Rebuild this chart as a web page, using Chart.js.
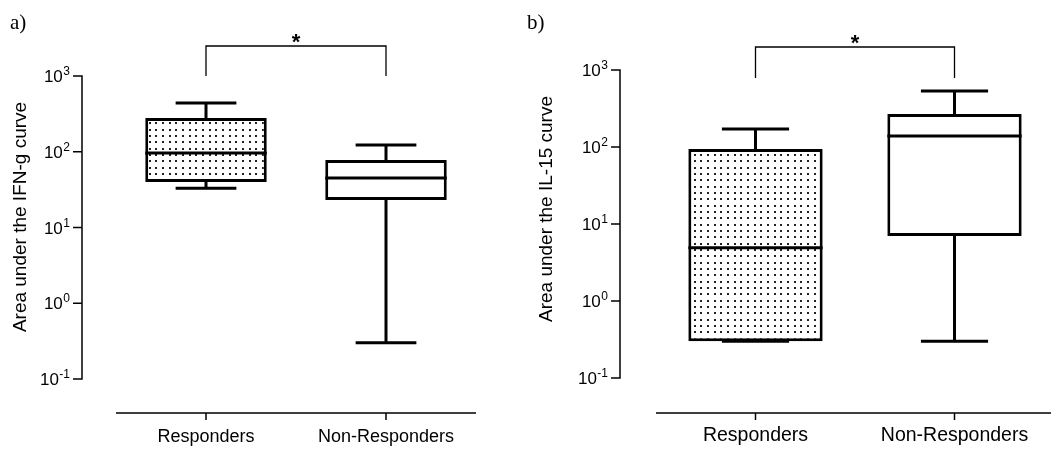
<!DOCTYPE html>
<html>
<head>
<meta charset="utf-8">
<script src="https://cdn.jsdelivr.net/npm/chart.js@4.4.0/dist/chart.umd.min.js"></script>
<style>
  html, body { margin: 0; padding: 0; background: #fff; overflow: hidden; }
  #wrap { position: relative; width: 1051px; height: 454px; overflow: hidden; }
  canvas { position: absolute; top: 0; }
  #chartA { left: 0; }
  #chartB { left: 525px; }
</style>
</head>
<body>
<div id="wrap">
  <canvas id="chartA" width="525" height="454"></canvas>
  <canvas id="chartB" width="540" height="454"></canvas>
</div>
<script>
// groups on the x axis
const categories = ['Responders', 'Non-Responders'];

// panel a) area under the IFN-g curve (box: Q1..Q3, whiskers min..max)
const ifnMin = [33, 0.3];
const ifnQ1 = [40, 23];
const ifnMedian = [96, 45];
const ifnQ3 = [279, 78];
const ifnMax = [440, 123];

// panel b) area under the IL-15 curve
const il15Min = [0.3, 0.3];
const il15Q1 = [0.3, 7.0];
const il15Median = [4.9, 139];
const il15Q3 = [94, 268];
const il15Max = [171, 533];

// log axis ticks, shown as 10^n
const yTickValues = [0.1, 1, 10, 100, 1000];
const yTickExponents = ['-1', '0', '1', '2', '3'];

const SANS = "'Liberation Sans', Arial, sans-serif";
const SERIF = "'Liberation Serif', 'Times New Roman', serif";

function dotPattern() {
  const c = document.createElement('canvas');
  c.width = 20;
  c.height = 19;
  const g = c.getContext('2d');
  g.fillStyle = '#fff';
  g.fillRect(0, 0, 20, 19);
  g.fillStyle = '#222';
  for (let i = 0; i < 3; i++) {
    for (let j = 0; j < 3; j++) {
      g.fillRect(Math.round(2 + i * 6.67), Math.round(2 + j * 6.33), 2, 2);
    }
  }
  return g.createPattern(c, 'repeat');
}

// whiskers, caps and median line, drawn on top of the floating bars
const boxWhiskerPlugin = {
  id: 'boxWhiskers',
  afterDatasetsDraw(chart, args, opts) {
    const ctx = chart.ctx;
    const y = chart.scales.y;
    const s = opts.stats;
    ctx.save();
    ctx.strokeStyle = '#000';
    ctx.lineWidth = 3;
    ctx.beginPath();
    chart.getDatasetMeta(0).data.forEach((bar, i) => {
      const half = bar.width / 2;
      const yMin = y.getPixelForValue(s.min[i]);
      const yQ1 = y.getPixelForValue(s.q1[i]);
      const yMed = y.getPixelForValue(s.median[i]);
      const yQ3 = y.getPixelForValue(s.q3[i]);
      const yMax = y.getPixelForValue(s.max[i]);
      ctx.moveTo(bar.x, yQ3); ctx.lineTo(bar.x, yMax);
      ctx.moveTo(bar.x - half / 2, yMax); ctx.lineTo(bar.x + half / 2, yMax);
      ctx.moveTo(bar.x, yQ1); ctx.lineTo(bar.x, yMin);
      ctx.moveTo(bar.x - half / 2, yMin); ctx.lineTo(bar.x + half / 2, yMin);
      ctx.moveTo(bar.x - half, yMed); ctx.lineTo(bar.x + half, yMed);
    });
    ctx.stroke();
    ctx.restore();
  }
};

// Prism style detached axes, title, panel letter and significance bracket
const prismAxesPlugin = {
  id: 'prismAxes',
  afterDraw(chart, args, o) {
    const ctx = chart.ctx;
    const a = chart.chartArea;
    const x = chart.scales.x;
    const y = chart.scales.y;
    ctx.save();
    ctx.strokeStyle = '#000';
    ctx.fillStyle = '#000';
    ctx.lineWidth = 1.5;

    const ax = a.left - o.yGap;
    const yTop = y.getPixelForValue(yTickValues[yTickValues.length - 1]);
    const yBot = y.getPixelForValue(yTickValues[0]);
    const xAxisY = a.bottom + o.xGap;

    ctx.beginPath();
    ctx.moveTo(ax, yTop - 0.75);
    ctx.lineTo(ax, yBot + 0.75);
    yTickValues.forEach(v => {
      const py = y.getPixelForValue(v);
      ctx.moveTo(ax - 9, py);
      ctx.lineTo(ax, py);
    });
    ctx.moveTo(a.left, xAxisY);
    ctx.lineTo(a.right, xAxisY);
    categories.forEach((c, i) => {
      const px = x.getPixelForValue(i);
      ctx.moveTo(px, xAxisY);
      ctx.lineTo(px, xAxisY + 7);
    });
    ctx.stroke();

    // tick labels 10^n
    yTickValues.forEach((v, i) => {
      const py = y.getPixelForValue(v);
      ctx.font = '12px ' + SANS;
      const sup = yTickExponents[i];
      const supW = ctx.measureText(sup).width;
      const right = ax - 12;
      ctx.textAlign = 'left';
      ctx.textBaseline = 'alphabetic';
      ctx.fillText(sup, right - supW, py - 1);
      ctx.font = '17px ' + SANS;
      ctx.textAlign = 'right';
      ctx.fillText('10', right - supW - 0.5, py + 6);
    });

    // category labels
    ctx.font = o.catFont + 'px ' + SANS;
    ctx.textAlign = 'center';
    ctx.textBaseline = 'alphabetic';
    categories.forEach((c, i) => {
      ctx.fillText(c, x.getPixelForValue(i), xAxisY + o.catDrop);
    });

    // rotated y title
    ctx.save();
    ctx.translate(o.titleX, o.titleY);
    ctx.rotate(-Math.PI / 2);
    ctx.font = '19px ' + SANS;
    ctx.textAlign = 'center';
    ctx.fillText(o.title, 0, 0);
    ctx.restore();

    // panel letter
    ctx.font = '21px ' + SERIF;
    ctx.textAlign = 'left';
    ctx.fillText(o.letter, o.letterX, 29);

    // significance bracket between the two groups
    const x0 = x.getPixelForValue(0);
    const x1 = x.getPixelForValue(1);
    const lineY = yTop - o.bracketRise;
    const footY = yTop + o.bracketDrop;
    ctx.lineWidth = 1.3;
    ctx.beginPath();
    ctx.moveTo(x0, footY);
    ctx.lineTo(x0, lineY);
    ctx.lineTo(x1, lineY);
    ctx.lineTo(x1, footY);
    ctx.stroke();
    ctx.font = 'bold 22px ' + SANS;
    ctx.textAlign = 'center';
    ctx.fillText('*', (x0 + x1) / 2, lineY + 3);
    ctx.restore();
  }
};

function makePanel(canvasId, stats, opts) {
  const ctx = document.getElementById(canvasId).getContext('2d');
  return new Chart(ctx, {
    type: 'bar',
    data: {
      labels: categories,
      datasets: [{
        data: categories.map((c, i) => [stats.q1[i], stats.q3[i]]),
        backgroundColor: [dotPattern(), '#ffffff'],
        borderColor: '#000',
        borderWidth: 3,
        borderSkipped: false,
        barPercentage: 0.675,
        categoryPercentage: 1
      }]
    },
    options: {
      responsive: false,
      animation: false,
      devicePixelRatio: 1,
      layout: { padding: opts.padding },
      plugins: {
        legend: { display: false },
        tooltip: { enabled: false },
        boxWhiskers: { stats },
        prismAxes: opts.axes
      },
      scales: {
        x: { type: 'category', display: false, offset: true, grid: { offset: true } },
        y: { type: 'logarithmic', display: false, min: 0.1, max: 1000 }
      }
    },
    plugins: [boxWhiskerPlugin, prismAxesPlugin]
  });
}

makePanel('chartA',
  { min: ifnMin, q1: ifnQ1, median: ifnMedian, q3: ifnQ3, max: ifnMax },
  {
    padding: { left: 116, right: 49, top: 76, bottom: 75 },
    axes: {
      yGap: 34, xGap: 34, catFont: 18, catDrop: 29,
      title: 'Area under the IFN-g curve', titleX: 26, titleY: 217,
      letter: 'a)', letterX: 10, bracketRise: 30, bracketDrop: 0
    }
  });

makePanel('chartB',
  { min: il15Min, q1: il15Q1, median: il15Median, q3: il15Q3, max: il15Max },
  {
    padding: { left: 131, right: 11, top: 70, bottom: 76 },
    axes: {
      yGap: 36, xGap: 35, catFont: 19.5, catDrop: 28,
      title: 'Area under the IL-15 curve', titleX: 27, titleY: 209,
      letter: 'b)', letterX: 2, bracketRise: 23, bracketDrop: 8
    }
  });
</script>
</body>
</html>
